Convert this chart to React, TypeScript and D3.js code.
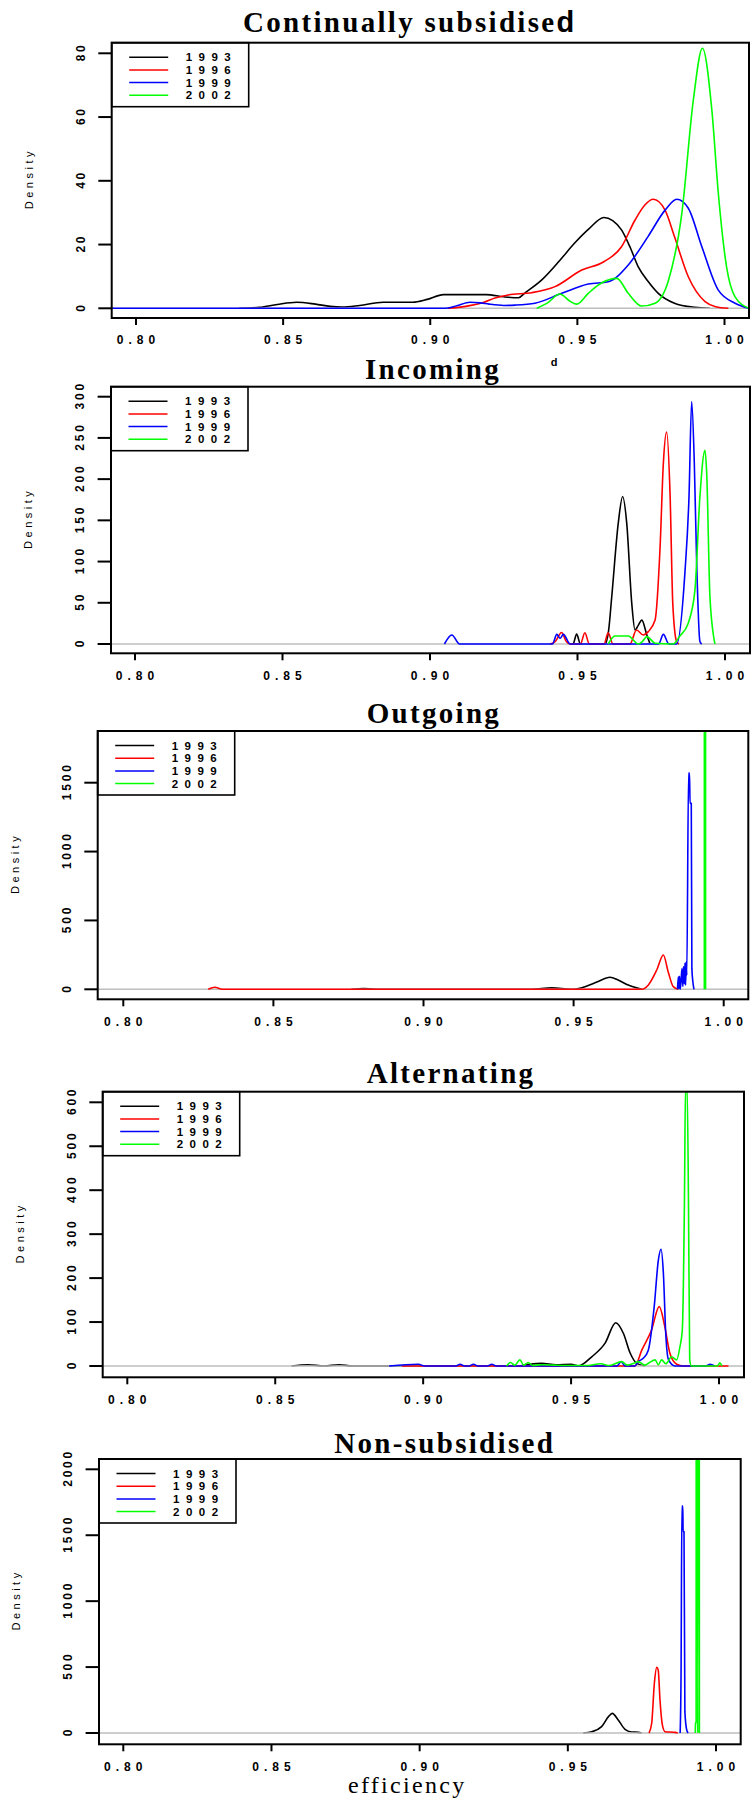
import * as d3 from "d3";

const years = ["1993", "1996", "1999", "2002"];
const yearColors = ["#000000", "#ff0000", "#0000ff", "#00ff00"];
const xTicks = [0.8, 0.85, 0.9, 0.95, 1.0];
const xTickLabels = ["0.80", "0.85", "0.90", "0.95", "1.00"];

const panelTitles = ["Continually subsidise", "Incoming", "Outgoing", "Alternating", "Non-subsidised"];
// the first title's last glyph came out in a different font in the original export
const titleTails = ["d", "", "", "", ""];
const yTicksByPanel = [
  [0, 20, 40, 60, 80],
  [0, 50, 100, 150, 200, 250, 300],
  [0, 500, 1000, 1500],
  [0, 100, 200, 300, 400, 500, 600],
  [0, 500, 1000, 1500, 2000],
];

// Continually subsidised
const cont1993 = [[0.835, 0], [0.842, 0.3], [0.848, 1.2], [0.8546, 1.9], [0.861, 1.3], [0.866, 0.6], [0.87, 0.4], [0.876, 0.9], [0.884, 1.9], [0.894, 1.9], [0.899, 2.8], [0.9045, 4.3], [0.919, 4.3], [0.925, 3.6], [0.93, 3.3], [0.932, 4.7], [0.938, 9], [0.944, 15], [0.949, 20.4], [0.954, 25], [0.959, 28.5], [0.962, 27.5], [0.965, 24.6], [0.968, 19], [0.9707, 13], [0.974, 8.5], [0.9775, 4.7], [0.983, 1.6], [0.99, 0.3], [0.995, 0]];
const cont1996 = [[0.906, 0], [0.912, 0.6], [0.918, 1.8], [0.922, 3.2], [0.9265, 4.2], [0.9345, 4.9], [0.9424, 6.8], [0.9515, 12], [0.959, 14.6], [0.965, 19.3], [0.9696, 27.7], [0.973, 32.5], [0.9758, 34.2], [0.9798, 30.8], [0.983, 22.5], [0.9877, 9.9], [0.9934, 2.1], [0.997, 0.5], [1.0013, 0]];
const cont1999 = [[0.79, 0], [0.905, 0], [0.909, 0.8], [0.9135, 1.9], [0.917, 1.7], [0.92, 1.3], [0.925, 0.9], [0.9288, 1.0], [0.9356, 1.6], [0.9447, 4.7], [0.9537, 7.6], [0.9605, 8.3], [0.9673, 13.6], [0.974, 22.5], [0.9798, 30.8], [0.9838, 34.2], [0.9877, 31.4], [0.9923, 19.3], [0.9979, 5.7], [1.0036, 1.6], [1.0083, 0]];
const cont2002 = [[0.9362, 0], [0.94, 1.8], [0.944, 4.5], [0.9475, 2.2], [0.9498, 1.3], [0.9537, 4.7], [0.9583, 8.0], [0.9634, 9.4], [0.9673, 4.7], [0.9719, 0.7], [0.9764, 1.6], [0.981, 8.9], [0.9855, 29.8], [0.9894, 65.3], [0.9925, 81.6], [0.9957, 62.2], [0.9979, 36.1], [1.0007, 13], [1.0036, 3.6], [1.0083, 0]];

// Incoming
const inc1993 = [[0.9475, 0], [0.9485, 0], [0.9497, 12], [0.951, 0], [0.9593, 0], [0.9605, 15], [0.9616, 57], [0.9638, 146], [0.9653, 179], [0.9667, 146], [0.9684, 49], [0.9695, 17], [0.9705, 22], [0.9718, 29], [0.9735, 11], [0.9746, 0]];
const inc1996 = [[0.9407, 0], [0.9425, 3], [0.9446, 14], [0.9462, 3], [0.9475, 0], [0.951, 0], [0.9525, 13.7], [0.954, 0], [0.959, 0], [0.9604, 13.7], [0.962, 0], [0.9678, 0], [0.97, 17], [0.9723, 11], [0.974, 15], [0.9763, 29], [0.978, 118], [0.9791, 219], [0.9802, 257], [0.9814, 179], [0.9823, 49], [0.9836, 3], [0.9844, 0]];
const inc1999 = [[0.9049, 0], [0.9074, 11], [0.91, 0], [0.9415, 0], [0.943, 11.7], [0.9441, 7], [0.9452, 11.7], [0.9475, 0], [0.9775, 0], [0.9791, 11.7], [0.981, 0], [0.9836, 0], [0.9864, 86], [0.9878, 179], [0.9887, 294], [0.9896, 219], [0.9904, 98], [0.9915, 3], [0.9921, 0]];
const inc2002 = [[0.9604, 0], [0.9627, 9.7], [0.9672, 9.7], [0.9706, 0], [0.972, 3], [0.9735, 9], [0.9763, 1], [0.9824, 0], [0.9847, 9.7], [0.9875, 25], [0.9898, 65], [0.9915, 179], [0.9932, 235], [0.9938, 207], [0.9949, 57], [0.9966, 0]];

// Outgoing
const out1993 = [[0.876, 0], [0.88, 6], [0.884, 0], [0.936, 0], [0.9427, 10], [0.9494, 0], [0.9538, 19], [0.958, 55], [0.9621, 87], [0.965, 65], [0.9682, 31], [0.9727, 0]];
const out1996 = [[0.8283, 0], [0.8305, 15], [0.833, 0], [0.9727, 0], [0.9749, 31], [0.9777, 140], [0.9799, 249], [0.9815, 128], [0.9832, 19], [0.9849, 0]];
const out1999 = [[0.9846, 0], [0.9849, 90], [0.9851, 5], [0.9853, 95], [0.9855, 0], [0.9858, 60], [0.9861, 150], [0.9864, 20], [0.9866, 165], [0.9869, 40], [0.9871, 190], [0.9873, 30], [0.9875, 200], [0.9877, 100], [0.9883, 1570], [0.9886, 1570], [0.9888, 1350], [0.9892, 1350], [0.9894, 150], [0.9897, 60], [0.9901, 0]];
const out2002 = [[0.99355, 0], [0.99358, 8000], [0.99393, 8000], [0.99396, 0]];

// Alternating
const alt1993 = [[0.8555, 0], [0.8611, 3], [0.8665, 0], [0.8716, 3], [0.876, 0], [0.932, 0], [0.936, 4], [0.94, 6], [0.945, 3], [0.95, 4], [0.9524, 0], [0.957, 21], [0.9615, 52], [0.9651, 98.5], [0.9677, 74], [0.97, 29], [0.9722, 6], [0.975, 0]];
const alt1996 = [[0.8928, 0], [0.9716, 0], [0.9739, 36], [0.9772, 82], [0.9798, 135], [0.9817, 89], [0.9834, 29], [0.9857, 4], [0.988, 0], [1.0032, 0]];
const alt1999 = [[0.8885, 0], [0.8984, 4], [0.9005, 0], [0.911, 0], [0.9125, 4], [0.914, 0], [0.9155, 0], [0.917, 4], [0.9185, 0], [0.9217, 0], [0.9232, 4], [0.9247, 0], [0.9655, 0], [0.9669, 10], [0.9683, 0], [0.9715, 0], [0.9727, 10], [0.9744, 17.5], [0.9761, 36], [0.9781, 135], [0.9795, 241], [0.9804, 265.5], [0.9812, 211], [0.982, 74], [0.9829, 15], [0.9851, 0], [0.9955, 0], [0.997, 4], [0.9985, 0]];
const alt2002 = [[0.9282, 0], [0.9295, 8], [0.931, 2], [0.9327, 14], [0.934, 2], [0.9355, 8], [0.937, 1], [0.94, 3], [0.944, 2], [0.948, 1], [0.955, 1], [0.96, 5], [0.963, 1], [0.9671, 10], [0.969, 2], [0.9712, 6], [0.9727, 10], [0.975, 2], [0.9765, 8], [0.9784, 14], [0.9795, 3], [0.9806, 14], [0.982, 5], [0.984, 21], [0.9857, 14], [0.9868, 44], [0.9876, 82], [0.9883, 362], [0.9887, 640], [0.9892, 640], [0.9897, 362], [0.9901, 14], [0.9907, 0], [0.9995, 0], [1.0003, 7], [1.001, 0]];

// Non-subsidised
const non1993 = [[0.9552, 0], [0.9581, 10], [0.9614, 48], [0.9637, 124], [0.965, 149], [0.967, 99], [0.9693, 28], [0.9715, 8], [0.9738, 5], [0.9749, 0]];
const non1996 = [[0.9774, 0], [0.9783, 74], [0.9792, 377], [0.98, 498], [0.9805, 478], [0.9811, 250], [0.9819, 61], [0.9828, 10], [0.9862, 5], [0.9871, 0]];
const non1999 = [[0.9879, 0], [0.9882, 427], [0.9885, 1722], [0.9888, 1722], [0.9889, 1527], [0.9892, 1527], [0.9895, 162], [0.9901, 25], [0.9906, 0]];
const non2002 = [[0.993, 0], [0.9931, 74], [0.9933, 80], [0.99338, 9000], [0.99383, 0], [0.99428, 9000], [0.9944, 0]];

const seriesByPanel = [
  [cont1993, cont1996, cont1999, cont2002],
  [inc1993, inc1996, inc1999, inc2002],
  [out1993, out1996, out1999, out2002],
  [alt1993, alt1996, alt1999, alt2002],
  [non1993, non1996, non1999, non2002],
];

// pixel geometry of each panel (frame, where 0.80/1.00 and 0/top tick fall, title origin)
const frames = [
  { left: 111.7, right: 749, top: 42.7, bottom: 318, x80: 136, x100: 724.5, y0: 308.3, yMax: 53.3, titleX: 243, titleY: 31.7 },
  { left: 111, right: 750, top: 386.7, bottom: 653.3, x80: 135, x100: 725, y0: 644, yMax: 396.7, titleX: 365, titleY: 379.3 },
  { left: 97.7, right: 748.3, top: 731, bottom: 999.3, x80: 123.3, x100: 723.7, y0: 989.3, yMax: 782.7, titleX: 366.7, titleY: 723.3 },
  { left: 102.7, right: 744, top: 1091.7, bottom: 1377.3, x80: 127.3, x100: 719, y0: 1366, yMax: 1102.3, titleX: 366.7, titleY: 1082.7 },
  { left: 99, right: 740.7, top: 1459, bottom: 1744.3, x80: 123.3, x100: 716, y0: 1733, yMax: 1469.3, titleX: 334.3, titleY: 1452.7 },
];

const sans = "'Liberation Sans', Arial, sans-serif";
const serif = "'Liberation Serif', 'Times New Roman', serif";

function Panel({ idx }: { idx: number }) {
  const f = frames[idx];
  const ticks = yTicksByPanel[idx];
  const series = seriesByPanel[idx];
  const x = d3.scaleLinear().domain([0.8, 1.0]).range([f.x80, f.x100]);
  const y = d3.scaleLinear().domain([0, ticks[ticks.length - 1]]).range([f.y0, f.yMax]);
  const line = d3
    .line<number[]>()
    .x((d) => x(d[0]))
    .y((d) => y(d[1]))
    .curve(d3.curveMonotoneX);
  const clipId = `clip-${idx}`;
  const midY = (f.top + f.bottom) / 2;

  return (
    <g>
      <defs>
        <clipPath id={clipId}>
          <rect x={f.left} y={f.top} width={f.right - f.left} height={f.bottom - f.top} />
        </clipPath>
      </defs>

      <text x={f.titleX} y={f.titleY} fontFamily={serif} fontWeight="bold" fontSize={29} letterSpacing={2.3}>
        {panelTitles[idx]}
        {titleTails[idx] && <tspan fontFamily={sans}>{titleTails[idx]}</tspan>}
      </text>

      <g clipPath={`url(#${clipId})`}>
        <path d={line(series[0]) || ""} fill="none" stroke={yearColors[0]} strokeWidth={1.6} />
        <line x1={f.left} x2={f.right} y1={y(0)} y2={y(0)} stroke="#bebebe" strokeWidth={1.6} />
        {series.slice(1).map((s, i) => (
          <path key={i} d={line(s) || ""} fill="none" stroke={yearColors[i + 1]} strokeWidth={1.6} strokeLinejoin="round" />
        ))}
      </g>

      {/* legend */}
      <rect x={f.left} y={f.top} width={137} height={64} fill="white" stroke="black" strokeWidth={1.6} />
      {years.map((yr, i) => (
        <g key={yr}>
          <line x1={f.left + 17.5} x2={f.left + 56.5} y1={f.top + 14.5 + i * 12.7} y2={f.top + 14.5 + i * 12.7} stroke={yearColors[i]} strokeWidth={1.5} />
          <text x={f.left + 74} y={f.top + 14.5 + i * 12.7} dy="0.36em" fontFamily={sans} fontWeight="bold" fontSize={11.5} letterSpacing={6.5}>
            {yr}
          </text>
        </g>
      ))}

      {/* frame */}
      <rect x={f.left} y={f.top} width={f.right - f.left} height={f.bottom - f.top} fill="none" stroke="black" strokeWidth={2} />

      {/* x axis */}
      {xTicks.map((t, i) => (
        <g key={t}>
          <line x1={x(t)} x2={x(t)} y1={f.bottom} y2={f.bottom + 7} stroke="black" strokeWidth={2} />
          <text x={x(t)} dx={2.5} y={f.bottom + 22} dy="0.36em" textAnchor="middle" fontFamily={sans} fontWeight="bold" fontSize={12} letterSpacing={5}>
            {xTickLabels[i]}
          </text>
        </g>
      ))}

      {/* y axis */}
      {ticks.map((t) => (
        <g key={t}>
          <line x1={f.left - 13.4} x2={f.left} y1={y(t)} y2={y(t)} stroke="black" strokeWidth={2} />
          <text transform={`translate(${f.left - 31.5},${y(t)}) rotate(-90)`} dx={1.4} dy="0.36em" textAnchor="middle" fontFamily={sans} fontWeight="bold" fontSize={12} letterSpacing={2.8}>
            {t}
          </text>
        </g>
      ))}
      <text transform={`translate(${f.left - 83},${midY}) rotate(-90)`} dx={1.7} dy="0.36em" textAnchor="middle" fontFamily={sans} fontSize={11} letterSpacing={3.5}>
        Density
      </text>
    </g>
  );
}

export default function App() {
  return (
    <div style={{ position: "absolute", left: 0, top: 0 }}>
      <svg width={755} height={1810} style={{ display: "block", background: "white" }}>
        {frames.map((_, i) => (
          <Panel key={i} idx={i} />
        ))}
        {/* stray glyph under the first panel, present in the original export */}
        <text x={554} y={362} dy="0.36em" textAnchor="middle" fontFamily={sans} fontWeight="bold" fontSize={11}>d</text>
        <text x={406} y={1793.3} textAnchor="middle" dx={1.2} fontFamily={serif} fontSize={24} letterSpacing={2.3}>
          efficiency
        </text>
      </svg>
    </div>
  );
}
